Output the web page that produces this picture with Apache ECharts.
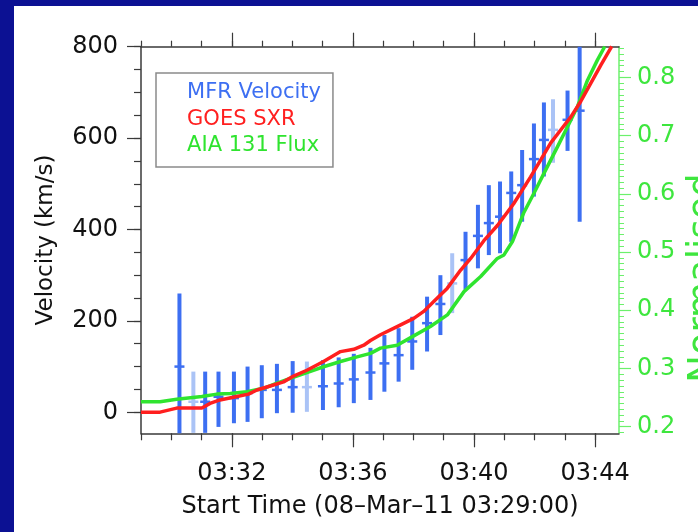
<!DOCTYPE html>
<html><head><meta charset="utf-8">
<script src="https://cdn.jsdelivr.net/npm/echarts@6/dist/echarts.min.js"></script>
<style>
html,body{margin:0;padding:0;background:#0c1193;width:698px;height:532px;overflow:hidden}
#chart{position:absolute;left:14px;top:6px;width:684px;height:526px;background:#fff}
</style></head><body><div id="chart"></div>
<script>
// ---- data (time in minutes after 03:29:00) ----
var startTime = '03:29:00';
var tickMinutes = [3, 7, 11, 15];
var tickLabels = ['03:32', '03:36', '03:40', '03:44'];
var velTickValues = [0, 200, 400, 600, 800];
var normTickValues = [0.2, 0.3, 0.4, 0.5, 0.6, 0.7, 0.8];
var legendNames = ['MFR Velocity', 'GOES SXR', 'AIA 131 Flux'];

var velTime = [1.27, 2.12, 2.56, 3.07, 3.52, 3.99, 4.49, 5.01, 6.01, 6.53, 7.03, 7.58, 8.04, 8.51, 8.96, 9.45, 9.89, 10.72, 11.13, 11.49, 11.86, 12.23, 12.59, 12.98, 13.31, 14.09, 14.49];
var velMid  = [100, 23, 34, 31, 42, 49, 49, 55, 57, 63, 72, 87, 107, 125, 155, 195, 237, 333, 386, 414, 428, 480, 497, 554, 596, 640, 660];
var velLow  = [-60, -45, -32, -24, -21, -13, -2, -1, 5, 11, 20, 27, 45, 67, 93, 133, 169, 268, 315, 344, 348, 373, 417, 472, 516, 572, 417];
var velHigh = [260, 89, 89, 89, 100, 103, 106, 112, 114, 120, 128, 141, 169, 184, 209, 253, 300, 395, 454, 497, 505, 527, 574, 632, 678, 704, 903];

var paleTime = [1.73, 5.48, 10.28, 13.61];
var paleMid  = [23, 55, 282, 618];
var paleLow  = [-45, 1, 217, 546];
var paleHigh = [89, 111, 348, 685];

var goesTime = [0, 0.63, 1.18, 2.01, 2.28, 2.61, 3.17, 3.55, 3.83, 4.27, 4.71, 5.04, 5.48, 6.03, 6.59, 7.03, 7.36, 7.58, 7.91, 8.46, 9.01, 9.34, 9.67, 10.12, 10.56, 10.89, 11.32, 11.78, 12.31, 12.87, 13.20, 13.53, 13.87, 14.20, 14.53, 14.86, 15.19, 15.55];
var goesFlux = [0.225, 0.225, 0.232, 0.232, 0.240, 0.246, 0.252, 0.256, 0.263, 0.270, 0.277, 0.287, 0.297, 0.312, 0.329, 0.333, 0.340, 0.348, 0.358, 0.372, 0.386, 0.398, 0.415, 0.438, 0.469, 0.489, 0.519, 0.546, 0.583, 0.629, 0.658, 0.687, 0.710, 0.732, 0.759, 0.790, 0.821, 0.853];

var aiaTime = [0, 0.63, 1.18, 2.01, 2.51, 2.95, 3.50, 4.05, 4.49, 4.93, 5.48, 6.03, 6.59, 7.14, 7.58, 7.91, 8.46, 9.01, 9.56, 10.12, 10.67, 11.22, 11.77, 11.99, 12.27, 12.64, 12.98, 13.31, 13.76, 14.09, 14.42, 14.75, 15.08, 15.32];
var aiaFlux = [0.243, 0.243, 0.247, 0.252, 0.256, 0.257, 0.260, 0.266, 0.275, 0.283, 0.293, 0.303, 0.312, 0.320, 0.326, 0.335, 0.340, 0.356, 0.372, 0.392, 0.432, 0.458, 0.489, 0.495, 0.518, 0.567, 0.601, 0.635, 0.681, 0.715, 0.750, 0.795, 0.830, 0.853];

// ---- styling ----
var FONT = 'DejaVu Sans';
var AX = '#3a3a3a';
var BLUE = '#3d6ff2', PALE = '#aac3f6', RED = '#ff1f1f', GREEN = '#2fe42f';
var GAX = '#6cf06c', GLAB = '#3ee63e';
var X_MIN = 0, X_MAX = 15.79, V_MIN = -46, V_MAX = 800, N_MIN = 0.1887, N_MAX = 0.8526;

var minuteTicks = [];
for (var m = 0; m <= 15; m++) minuteTicks.push(m);
var velMinor = [];
for (var v = 0; v <= 800; v += 50) velMinor.push(v);
var normMinor = [];
for (var k = 19; k <= 85; k++) normMinor.push(k / 100);

function errItem(color) {
  return function (params, api) {
    var cs = params.coordSys;
    var x = api.value(0);
    var pm = api.coord([x, api.value(1)]);
    var pl = api.coord([x, api.value(2)]);
    var ph = api.coord([x, api.value(3)]);
    var yTop = Math.max(ph[1], cs.y), yBot = Math.min(pl[1], cs.y + cs.height);
    var ch = [{type: 'line', shape: {x1: pl[0], y1: yBot, x2: ph[0], y2: yTop}, style: {stroke: color, lineWidth: 4}}];
    if (pm[1] >= cs.y && pm[1] <= cs.y + cs.height) {
      ch.push({type: 'line', shape: {x1: pm[0] - 5, y1: pm[1], x2: pm[0] + 5, y2: pm[1]}, style: {stroke: color, lineWidth: 2.5}});
    }
    return {type: 'group', children: ch};
  };
}

var chart = echarts.init(document.getElementById('chart'));
chart.setOption({
  animation: false,
  backgroundColor: '#fff',
  grid: {left: 127, top: 40.7, right: 79, bottom: 98.7, containLabel: false, outerBoundsMode: 'none'},
  legend: {
    left: 142, top: 67, orient: 'vertical', padding: [9, 12, 10, 20], itemGap: 4.5,
    itemWidth: 1, itemHeight: 14, borderColor: '#8a8a8a', borderWidth: 1.5, selectedMode: false,
    itemStyle: {opacity: 0}, lineStyle: {opacity: 0},
    textStyle: {fontFamily: FONT, fontSize: 21, lineHeight: 22},
    data: [
      {name: legendNames[0], textStyle: {color: BLUE}},
      {name: legendNames[1], textStyle: {color: RED}},
      {name: legendNames[2], textStyle: {color: GREEN}}
    ]
  },
  xAxis: [
    {type: 'value', position: 'bottom', min: X_MIN, max: X_MAX,
     axisLine: {show: true, onZero: false, lineStyle: {color: AX, width: 1.5}},
     axisTick: {show: true, length: 7, customValues: minuteTicks, lineStyle: {color: AX, width: 1.2}},
     axisLabel: {show: true, customValues: tickMinutes, margin: 28,
       formatter: function (v) { var i = tickMinutes.indexOf(Math.round(v)); return i >= 0 ? tickLabels[i] : ''; },
       fontFamily: FONT, fontSize: 24, color: '#111'},
     splitLine: {show: false},
     name: 'Start Time (08\u2013Mar\u201311 ' + startTime + ')', nameLocation: 'middle', nameGap: 61,
     nameTextStyle: {fontFamily: FONT, fontSize: 24, color: '#111'}},
    {type: 'value', position: 'bottom', min: X_MIN, max: X_MAX,
     axisLine: {show: false, onZero: false},
     axisTick: {show: true, length: 14, customValues: tickMinutes, lineStyle: {color: AX, width: 1.2}},
     axisLabel: {show: false}, splitLine: {show: false}},
    {type: 'value', position: 'top', min: X_MIN, max: X_MAX,
     axisLine: {show: true, onZero: false, lineStyle: {color: AX, width: 1.5}},
     axisTick: {show: true, length: 6, customValues: minuteTicks, lineStyle: {color: AX, width: 1.2}},
     axisLabel: {show: false}, splitLine: {show: false}},
    {type: 'value', position: 'top', min: X_MIN, max: X_MAX,
     axisLine: {show: false, onZero: false},
     axisTick: {show: true, length: 14, customValues: tickMinutes, lineStyle: {color: AX, width: 1.2}},
     axisLabel: {show: false}, splitLine: {show: false}}
  ],
  yAxis: [
    {type: 'value', position: 'left', min: V_MIN, max: V_MAX,
     axisLine: {show: true, onZero: false, lineStyle: {color: AX, width: 1.5}},
     axisTick: {show: true, length: 14, customValues: velTickValues, lineStyle: {color: AX, width: 1.2}},
     axisLabel: {show: true, customValues: velTickValues, margin: 23, fontFamily: FONT, fontSize: 24, color: '#111'},
     splitLine: {show: false},
     name: 'Velocity (km/s)', nameLocation: 'middle', nameGap: 83,
     nameTextStyle: {fontFamily: FONT, fontSize: 23, color: '#111'}},
    {type: 'value', position: 'left', min: V_MIN, max: V_MAX,
     axisLine: {show: false, onZero: false},
     axisTick: {show: true, length: 7, customValues: velMinor, lineStyle: {color: AX, width: 1.2}},
     axisLabel: {show: false}, splitLine: {show: false}},
    {type: 'value', position: 'right', min: N_MIN, max: N_MAX,
     axisLine: {show: true, onZero: false, lineStyle: {color: GAX, width: 1.5}},
     axisTick: {show: true, length: 12, customValues: normTickValues, lineStyle: {color: GAX, width: 1.2}},
     axisLabel: {show: true, customValues: normTickValues, margin: 18,
       formatter: function (v) { return v.toFixed(1); },
       fontFamily: FONT, fontSize: 24, color: GLAB},
     splitLine: {show: false},
     name: 'Normalised', nameLocation: 'middle', nameGap: 53,
     nameTextStyle: {fontFamily: FONT, fontSize: 37, color: GLAB, padding: [0, 76, 0, 0]}},
    {type: 'value', position: 'right', min: N_MIN, max: N_MAX,
     axisLine: {show: false, onZero: false},
     axisTick: {show: true, length: 5, customValues: normMinor, lineStyle: {color: GAX, width: 1}},
     axisLabel: {show: false}, splitLine: {show: false}}
  ],
  series: [
    {type: 'custom', name: legendNames[0], xAxisIndex: 0, yAxisIndex: 0, z: 2,
     renderItem: errItem(PALE), itemStyle: {color: BLUE},
     data: paleTime.map(function (t, i) { return [t, paleMid[i], paleLow[i], paleHigh[i]]; })},
    {type: 'custom', name: legendNames[0], xAxisIndex: 0, yAxisIndex: 0, z: 2,
     renderItem: errItem(BLUE), itemStyle: {color: BLUE},
     data: velTime.map(function (t, i) { return [t, velMid[i], velLow[i], velHigh[i]]; })},
    {type: 'line', name: legendNames[2], xAxisIndex: 0, yAxisIndex: 2, z: 3,
     showSymbol: false, symbol: 'none', color: GREEN, lineStyle: {color: GREEN, width: 3.5},
     data: aiaTime.map(function (t, i) { return [t, aiaFlux[i]]; })},
    {type: 'line', name: legendNames[1], xAxisIndex: 0, yAxisIndex: 2, z: 4,
     showSymbol: false, symbol: 'none', color: RED, lineStyle: {color: RED, width: 3.5},
     data: goesTime.map(function (t, i) { return [t, goesFlux[i]]; })}
  ]
});
</script></body></html>
